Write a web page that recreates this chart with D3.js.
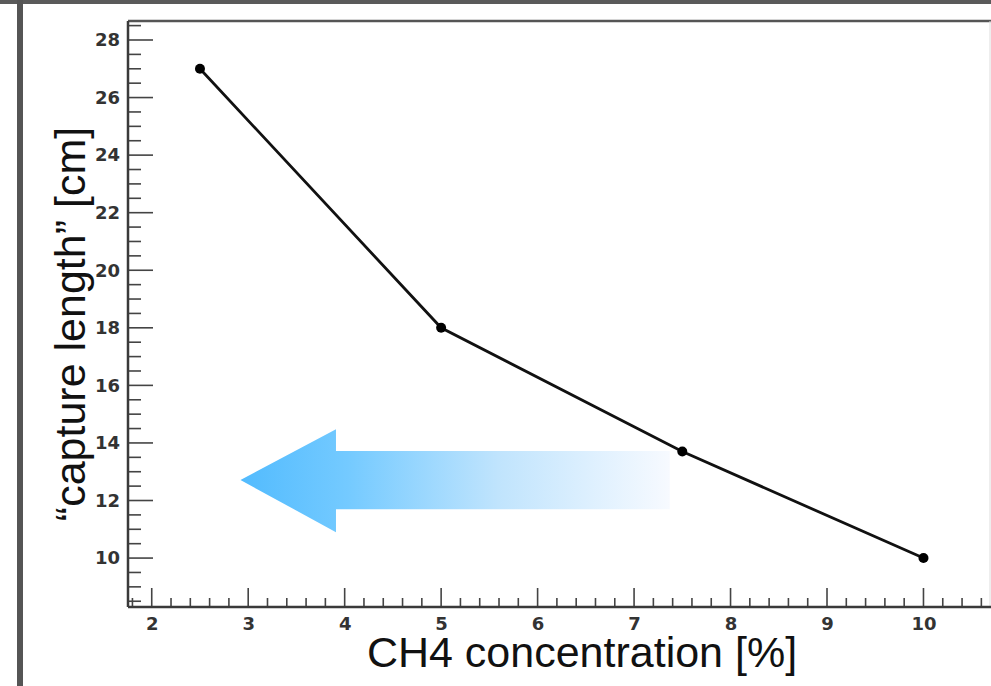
<!DOCTYPE html>
<html>
<head>
<meta charset="utf-8">
<script src="https://cdn.jsdelivr.net/npm/d3@7"></script>
<style>
  body { margin: 0; background: #fff; }
  svg { display: block; }
</style>
</head>
<body>
<script>
var width = 991
var height = 686
var margin = {
  top: 21,
  bottom: 79,
  left: 128,
  right: 0
}

// measured points
var concentration = [2.5, 5, 7.5, 10]
var captureLength = [27, 18, 13.7, 10]

var xTickValues = [2, 3, 4, 5, 6, 7, 8, 9, 10]
var yTickValues = [10, 12, 14, 16, 18, 20, 22, 24, 26, 28]

// arrow annotation, in data units
var arrowX = [2.92, 3.91, 7.37]      // tip, head base, tail
var arrowY = [12.71, 14.48, 10.9, 13.72, 11.70]  // tip, head top, head bottom, shaft top, shaft bottom

var data = concentration.map((c, i) => ({ x: c, y: captureLength[i] }))

var svg = d3.select('body').append('svg')
  .attr('width', width)
  .attr('height', height)

var xScale = d3.scaleLinear()
  .domain([1.754, 10.70])
  .range([margin.left, width - margin.right])

var yScale = d3.scaleLinear()
  .domain([8.30, 28.66])
  .range([height - margin.bottom, margin.top])

// page frame
svg.append('rect')
  .attr('x', 0).attr('y', 0)
  .attr('width', width).attr('height', 4)
  .attr('fill', '#5a5a5a')
svg.append('rect')
  .attr('x', 17).attr('y', 0)
  .attr('width', 6).attr('height', height)
  .attr('fill', '#555')

// gradient for the arrow
var grad = svg.append('defs').append('linearGradient')
  .attr('id', 'arrowGrad')
  .attr('gradientUnits', 'userSpaceOnUse')
  .attr('x1', xScale(arrowX[0])).attr('x2', xScale(arrowX[2]))
  .attr('y1', 0).attr('y2', 0)
grad.append('stop').attr('offset', '0%').attr('stop-color', '#52bbfe')
grad.append('stop').attr('offset', '25%').attr('stop-color', '#74caff')
grad.append('stop').attr('offset', '60%').attr('stop-color', '#c0e4fd')
grad.append('stop').attr('offset', '100%').attr('stop-color', '#f7faff')

var arrowPts = [
  [arrowX[0], arrowY[0]],
  [arrowX[1], arrowY[1]],
  [arrowX[1], arrowY[3]],
  [arrowX[2], arrowY[3]],
  [arrowX[2], arrowY[4]],
  [arrowX[1], arrowY[4]],
  [arrowX[1], arrowY[2]]
]

svg.append('polygon')
  .attr('points', arrowPts.map(p => [xScale(p[0]), yScale(p[1])].join(',')).join(' '))
  .attr('fill', 'url(#arrowGrad)')

// frame lines (top and right)
svg.append('line')
  .attr('x1', margin.left).attr('x2', width)
  .attr('y1', margin.top).attr('y2', margin.top)
  .attr('stroke', '#555').attr('stroke-width', 2.5)
svg.append('line')
  .attr('x1', width - 1).attr('x2', width - 1)
  .attr('y1', margin.top).attr('y2', height - margin.bottom)
  .attr('stroke', '#ddd').attr('stroke-width', 1)

// minor ticks
var xMinor = d3.range(1.8, 10.71, 0.2).filter(v => Math.abs(v - Math.round(v)) > 0.01)
var yMinor = d3.range(8.5, 28.6, 0.5).filter(v => Math.abs(v / 2 - Math.round(v / 2)) > 0.01)

var xAxis = d3.axisBottom(xScale)
  .tickValues(xTickValues)
  .tickSize(0)
  .tickPadding(10)
  .tickFormat(d3.format('d'))

var gx = svg.append('g')
  .attr('transform', 'translate(' + [0, height - margin.bottom] + ')')
  .call(xAxis)
gx.select('.domain').remove()
gx.selectAll('text')
  .attr('font-family', 'DejaVu Sans')
  .attr('font-weight', 'bold')
  .attr('font-size', 18)
  .attr('fill', '#333')

gx.selectAll('.major').data(xTickValues).enter().append('line')
  .attr('x1', d => xScale(d)).attr('x2', d => xScale(d))
  .attr('y1', 0).attr('y2', -19)
  .attr('stroke', '#444').attr('stroke-width', 1.6)
gx.selectAll('.minor').data(xMinor).enter().append('line')
  .attr('x1', d => xScale(d)).attr('x2', d => xScale(d))
  .attr('y1', 0).attr('y2', -9)
  .attr('stroke', '#444').attr('stroke-width', 1.6)
gx.append('line')
  .attr('x1', margin.left).attr('x2', width)
  .attr('y1', 0).attr('y2', 0)
  .attr('stroke', '#3a3a3a').attr('stroke-width', 2.5)

var yAxis = d3.axisLeft(yScale)
  .tickValues(yTickValues)
  .tickSize(0)
  .tickPadding(8)
  .tickFormat(d3.format('d'))

var gy = svg.append('g')
  .attr('transform', 'translate(' + [margin.left, 0] + ')')
  .call(yAxis)
gy.select('.domain').remove()
gy.selectAll('text')
  .attr('font-family', 'DejaVu Sans')
  .attr('font-weight', 'bold')
  .attr('font-size', 18)
  .attr('fill', '#333')

gy.selectAll('.major').data(yTickValues).enter().append('line')
  .attr('y1', d => yScale(d)).attr('y2', d => yScale(d))
  .attr('x1', 0).attr('x2', 25)
  .attr('stroke', '#444').attr('stroke-width', 1.6)
gy.selectAll('.minor').data(yMinor).enter().append('line')
  .attr('y1', d => yScale(d)).attr('y2', d => yScale(d))
  .attr('x1', 0).attr('x2', 13)
  .attr('stroke', '#444').attr('stroke-width', 1.6)
gy.append('line')
  .attr('x1', 0).attr('x2', 0)
  .attr('y1', margin.top).attr('y2', height - margin.bottom)
  .attr('stroke', '#3a3a3a').attr('stroke-width', 2.5)

// data line and markers
var line = d3.line()
  .x(d => xScale(d.x))
  .y(d => yScale(d.y))

svg.append('path')
  .attr('d', line(data))
  .attr('fill', 'none')
  .attr('stroke', '#111')
  .attr('stroke-width', 2.8)

svg.selectAll('.pt').data(data).enter().append('circle')
  .attr('cx', d => xScale(d.x))
  .attr('cy', d => yScale(d.y))
  .attr('r', 5)
  .attr('fill', '#000')

// axis titles
svg.append('text')
  .attr('x', 582)
  .attr('y', 667)
  .attr('text-anchor', 'middle')
  .attr('font-family', 'Liberation Sans, Arial, sans-serif')
  .attr('font-size', 43)
  .attr('fill', '#111')
  .text('CH4 concentration [%]')

svg.append('text')
  .attr('transform', 'translate(85,324) rotate(-90)')
  .attr('text-anchor', 'middle')
  .attr('font-family', 'Liberation Sans, Arial, sans-serif')
  .attr('font-size', 43)
  .attr('fill', '#111')
  .text('\u201ccapture length\u201d [cm]')
</script>
</body>
</html>
